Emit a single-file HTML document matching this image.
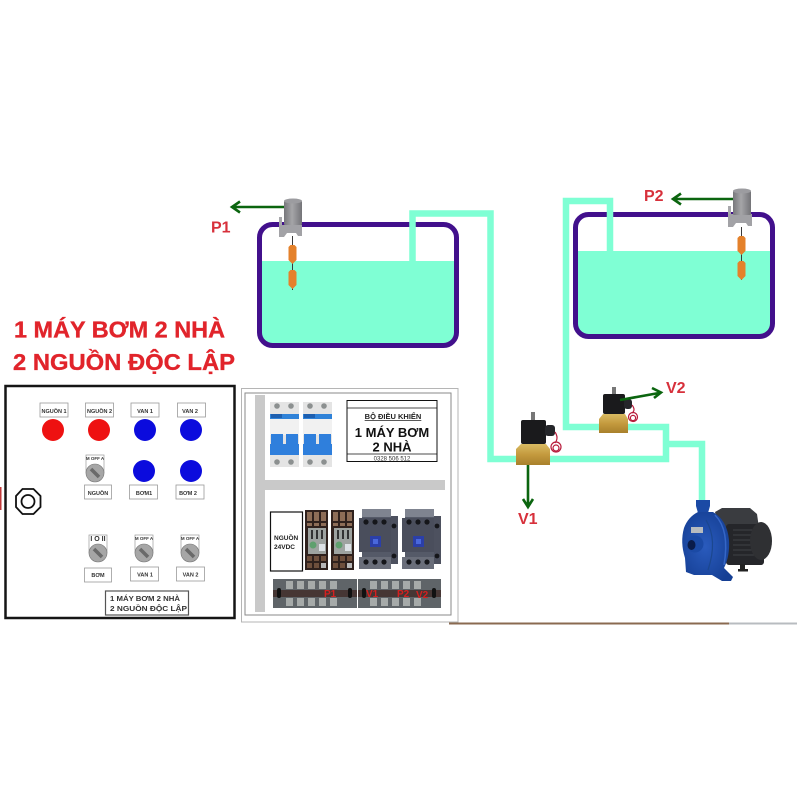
<!DOCTYPE html>
<html><head><meta charset="utf-8"><style>
html,body{margin:0;padding:0;background:#fff}
svg{display:block}
text{font-family:"Liberation Sans","Noto Sans CJK SC",sans-serif;font-weight:700}
</style></head><body>
<svg width="800" height="800" viewBox="0 0 800 800" xmlns="http://www.w3.org/2000/svg">
<defs>
<linearGradient id="cyl" x1="0" x2="1" y1="0" y2="0"><stop offset="0" stop-color="#77777b"/><stop offset=".45" stop-color="#a5a5a8"/><stop offset="1" stop-color="#747478"/></linearGradient>
<linearGradient id="brass" x1="0" x2="0" y1="0" y2="1"><stop offset="0" stop-color="#d9bb62"/><stop offset=".5" stop-color="#c49a3e"/><stop offset="1" stop-color="#a8802c"/></linearGradient>
<radialGradient id="pump" cx=".45" cy=".5" r=".6"><stop offset="0" stop-color="#2a5bbd"/><stop offset="1" stop-color="#153f94"/></radialGradient>
<g id="brk">
<rect x="0" y="0" width="29" height="65" fill="#e4e4e4"/>
<rect x="0" y="12" width="29" height="5" fill="#2f82d8"/>
<rect x="1" y="12" width="11" height="4" fill="#1d5fb0"/>
<rect x="0" y="17" width="29" height="16" fill="#f1f1f1"/>
<rect x="1" y="32" width="12" height="12" fill="#2f7fdc"/><rect x="16" y="32" width="12" height="12" fill="#2f7fdc"/>
<rect x="0" y="42" width="29" height="11" fill="#2f7fdc"/>
<circle cx="7" cy="4" r="2.800" fill="#8c9090"/><circle cx="21" cy="4" r="2.800" fill="#8c9090"/>
<circle cx="7" cy="60" r="2.800" fill="#8c9090"/><circle cx="21" cy="60" r="2.800" fill="#8c9090"/>
</g>
<g id="relay">
<rect x="0" y="0" width="23" height="60" fill="#2f211d"/>
<rect x="2" y="2" width="5" height="9" fill="#8d6d57"/><rect x="9" y="2" width="5" height="9" fill="#8d6d57"/><rect x="16" y="2" width="5" height="9" fill="#8d6d57"/>
<rect x="2" y="13" width="5" height="3" fill="#8d6d57"/><rect x="9" y="13" width="5" height="3" fill="#8d6d57"/><rect x="16" y="13" width="5" height="3" fill="#8d6d57"/>
<rect x="3" y="18" width="18" height="26" fill="#9ea3a0"/>
<rect x="6" y="20" width="2" height="9" fill="#333"/><rect x="11" y="20" width="2" height="9" fill="#333"/><rect x="16" y="20" width="2" height="9" fill="#333"/>
<circle cx="8" cy="35" r="3.500" fill="#5fa06e"/><rect x="14" y="34" width="6" height="7" fill="#dde2e6"/>
<rect x="2" y="46" width="5" height="5" fill="#6e4f3c"/><rect x="9" y="46" width="5" height="5" fill="#6e4f3c"/><rect x="16" y="46" width="5" height="5" fill="#6e4f3c"/>
<rect x="2" y="53" width="5" height="5" fill="#6e4f3c"/><rect x="9" y="53" width="5" height="5" fill="#6e4f3c"/><rect x="16" y="53" width="5" height="5" fill="#b8b8b8"/>
</g>
<g id="cont">
<rect x="3" y="0" width="29" height="60" fill="#555a68"/>
<rect x="0" y="9" width="32" height="34" fill="#4a4e5c"/>
<rect x="32" y="7" width="7" height="48" fill="#4d515f"/>
<rect x="3" y="0" width="29" height="8" fill="#7f8490"/>
<circle cx="7" cy="13" r="2.600" fill="#15161a"/><circle cx="16" cy="13" r="2.600" fill="#15161a"/><circle cx="25" cy="13" r="2.600" fill="#15161a"/>
<circle cx="35" cy="17" r="2.400" fill="#15161a"/><circle cx="35" cy="47" r="2.400" fill="#15161a"/>
<rect x="11" y="27" width="11" height="11" fill="#2b3fa8"/>
<rect x="14" y="30" width="5" height="5" fill="#4a68dc"/>
<rect x="0" y="48" width="32" height="12" fill="#6a6e7a"/>
<circle cx="7" cy="53" r="2.600" fill="#15161a"/><circle cx="16" cy="53" r="2.600" fill="#15161a"/><circle cx="25" cy="53" r="2.600" fill="#15161a"/>
</g>
<g id="selector">
<rect x="-9" y="-18" width="18" height="18" fill="#fff" stroke="#9a9a9a" stroke-width=".7"/>
<circle cx="0" cy="0" r="9" fill="#a6a6a6" stroke="#777" stroke-width=".6"/>
<path d="M-4-4L4 4" stroke="#6a6a6a" stroke-width="3.600"/>
</g>
<g id="float">
<path d="M-4 2L-2 0H2L4 2V15L0 19L-4 15Z" fill="#e4812b"/>
</g>
</defs>

<!-- tanks -->
<path d="M260 261H457V333a12 12 0 0 1-12 12H272a12 12 0 0 1-12-12Z" fill="#7fffd4"/>
<rect x="259.500" y="224.500" width="197" height="121" rx="13" fill="none" stroke="#42108c" stroke-width="5"/>
<path d="M575 251H773V325a12 12 0 0 1-12 12H587a12 12 0 0 1-12-12Z" fill="#7fffd4"/>
<rect x="575.500" y="214.500" width="197" height="122" rx="13" fill="none" stroke="#42108c" stroke-width="5"/>

<!-- pipes -->
<g fill="none" stroke="#7fffd4" stroke-width="6.500">
<path d="M412.500 261V213.500H490.500V459H520"/>
<path d="M545 459H666V427H600"/>
<path d="M600 427H566V201H610V251"/>
<path d="M666 444H702V502"/>
</g>

<!-- sensors -->
<g>
<rect x="279" y="217" width="3" height="10" fill="#a8a8ac"/>
<path d="M279 225H302V236H298L296 233H287L284 237H279Z" fill="#a2a2a6"/>
<rect x="284" y="201" width="18" height="24" rx="1" fill="url(#cyl)"/>
<ellipse cx="293" cy="201" rx="9" ry="2.500" fill="#9c9ca0"/>
<path d="M292.500 236V290" stroke="#3a3a3a" stroke-width="1"/>
<use href="#float" x="292.500" y="245"/><use href="#float" x="292.500" y="270"/>
</g>
<g>
<rect x="728" y="206" width="3" height="10" fill="#a8a8ac"/>
<path d="M728 214H752V226H748L746 223H736L733 227H728Z" fill="#a2a2a6"/>
<rect x="733" y="191" width="18" height="24" rx="1" fill="url(#cyl)"/>
<ellipse cx="742" cy="191" rx="9" ry="2.500" fill="#9c9ca0"/>
<path d="M741.500 227V280" stroke="#3a3a3a" stroke-width="1"/>
<use href="#float" x="741.500" y="236"/><use href="#float" x="741.500" y="261"/>
</g>

<!-- green arrows -->
<g fill="none" stroke="#0b650f" stroke-width="2.600">
<path d="M284 207H233M240 201.500L232 207L240 212.500"/>
<path d="M733 199H674M681 193.500L673 199L681 204.500"/>
<path d="M528 465V506M523 499L528 507L533 499"/>
</g>

<!-- valve 1 -->
<g>
<rect x="531" y="412" width="4" height="9" fill="#777"/>
<rect x="521" y="420" width="25" height="24" rx="2" fill="#1a1a1c"/>
<rect x="545" y="425" width="10" height="11" rx="3" fill="#25262a"/>
<path d="M516 449l5-5h25l4 5v16h-34z" fill="url(#brass)"/>
<g fill="none" stroke="#b81c3c" stroke-width="1.200"><circle cx="556" cy="447" r="5"/><circle cx="556" cy="448" r="3"/><path d="M555 432Q559 438 555 443"/></g>
</g>
<!-- valve 2 -->
<g>
<rect x="612" y="387" width="4" height="8" fill="#777"/>
<rect x="603" y="394" width="22" height="20" rx="2" fill="#1a1a1c"/>
<rect x="624" y="399" width="8" height="10" rx="3" fill="#25262a"/>
<path d="M599 419l4-5h22l3 5v14h-29z" fill="url(#brass)"/>
<g fill="none" stroke="#b81c3c" stroke-width="1.200"><circle cx="633" cy="417" r="4.500"/><circle cx="633" cy="418" r="2.600"/><path d="M632 405Q636 410 632 413"/></g>
</g>
<path d="M620 400L659 393M652 388L661 392.500L654 398" fill="none" stroke="#0b650f" stroke-width="2.600"/>

<!-- pump -->
<g>
<path d="M715 512L722 508H750L757 514L759 528L720 530Z" fill="#3a3c40"/>
<rect x="726" y="524" width="38" height="41" rx="3" fill="#25262a"/>
<g stroke="#4a4c50" stroke-width=".8"><path d="M733 530H758M733 535H758M733 540H758M733 545H758M733 550H758M733 555H758"/></g>
<ellipse cx="761" cy="541" rx="11" ry="19" fill="#2f3033"/>
<rect x="740" y="564" width="5" height="7" fill="#222"/>
<rect x="738" y="569" width="10" height="2.500" fill="#222"/>
<path d="M696 500H710V506L708 513H698L696 506Z" fill="#1b4aa5"/>
<path d="M698 512H713Q727 520 729 540Q730 556 724 568L733 577L731 581H722L712 575H694L686 572L685 558Q680 542 684 528Q688 517 698 512Z" fill="url(#pump)"/>
<path d="M715 515Q730 530 724 565" fill="none" stroke="#3566c6" stroke-width="1.500"/>
<path d="M706 520Q718 540 708 570" fill="none" stroke="#1b478f" stroke-width="1.200"/>
<rect x="691" y="527" width="12" height="6" fill="#b7bbbf"/>
<circle cx="695" cy="544" r="8.500" fill="#1b4aa5"/>
<ellipse cx="691.500" cy="545" rx="4" ry="5" fill="#0a1c4a"/>
</g>

<!-- title -->
<text x="14" y="337.500" font-size="22.800" fill="#e1242b" stroke="#e1242b" stroke-width=".35" textLength="211" lengthAdjust="spacingAndGlyphs">1 MÁY BƠM 2 NHÀ</text>
<text x="13" y="370" font-size="22.800" fill="#e1242b" stroke="#e1242b" stroke-width=".35" textLength="222" lengthAdjust="spacingAndGlyphs">2 NGUỒN ĐỘC LẬP</text>

<!-- labels -->
<g fill="#d7303b" font-size="16">
<text x="211" y="232.500">P1</text>
<text x="644" y="201">P2</text>
<text x="518" y="524">V1</text>
<text x="666" y="393">V2</text>
</g>

<!-- panel 1 -->
<rect x="0" y="487" width="1.500" height="23" fill="#c03a3a"/>
<rect x="5.500" y="386" width="229" height="232" fill="#fff" stroke="#151515" stroke-width="2.500"/>
<g fill="#fff" stroke="#9a9a9a" stroke-width=".8">
<rect x="40" y="403" width="28" height="14"/><rect x="85.500" y="403" width="28" height="14"/><rect x="131" y="403" width="28" height="14"/><rect x="177.500" y="403" width="28" height="14"/>
<rect x="84.500" y="485" width="27" height="14"/><rect x="129.500" y="485" width="28" height="14"/><rect x="176" y="485" width="28" height="14"/>
<rect x="84.500" y="568" width="27" height="14"/><rect x="130.500" y="567" width="28" height="14"/><rect x="176.500" y="567" width="28" height="14"/>
</g>
<g font-size="5.500" fill="#333" text-anchor="middle">
<text x="54" y="413">NGUỒN 1</text><text x="99.500" y="413">NGUỒN 2</text><text x="145" y="413">VAN 1</text><text x="190" y="413">VAN 2</text>
<text x="98" y="495">NGUỒN</text><text x="144" y="495">BƠM1</text><text x="188" y="495">BƠM 2</text>
<text x="98" y="577">BƠM</text><text x="145" y="576.500">VAN 1</text><text x="190.500" y="576.500">VAN 2</text>
</g>
<g fill="#ee1111"><circle cx="53" cy="430" r="11"/><circle cx="99" cy="430" r="11"/></g>
<g fill="#0b0bdd"><circle cx="145" cy="430" r="11"/><circle cx="191" cy="430" r="11"/><circle cx="144" cy="471" r="11"/><circle cx="191" cy="471" r="11"/></g>
<use href="#selector" x="95" y="473"/><use href="#selector" x="98" y="553"/><use href="#selector" x="144" y="553"/><use href="#selector" x="190" y="553"/>
<g font-size="4.500" fill="#333" text-anchor="middle">
<text x="95" y="460">M OFF A</text><text x="144" y="540">M OFF A</text><text x="190" y="540">M OFF A</text>
</g>
<text x="98" y="541" font-size="7" fill="#333" text-anchor="middle">I O II</text>
<polygon points="22.500,489 33.500,489 40.500,496 40.500,507 33.500,514 22.500,514 16,507 16,496" fill="#fff" stroke="#111" stroke-width="1.800"/>
<circle cx="28" cy="501.500" r="6.500" fill="none" stroke="#111" stroke-width="1.800"/>
<rect x="105.500" y="591" width="83" height="24" fill="#fff" stroke="#555" stroke-width="1.200"/>
<text x="110" y="601" font-size="7.500" fill="#333" textLength="70" lengthAdjust="spacingAndGlyphs">1 MÁY BƠM 2 NHÀ</text>
<text x="110" y="611" font-size="7.500" fill="#333" textLength="77" lengthAdjust="spacingAndGlyphs">2 NGUỒN ĐỘC LẬP</text>

<!-- panel 2 -->
<rect x="241.500" y="388.500" width="216.500" height="233.500" fill="#fff" stroke="#b5b5b5" stroke-width="1"/>
<rect x="245" y="393" width="206" height="222" fill="#fff" stroke="#8a8a8a" stroke-width="1"/>
<rect x="255" y="395" width="10" height="217" fill="#c9c9c9"/>
<rect x="265" y="480" width="180" height="10" fill="#c9c9c9"/>
<use href="#brk" x="270" y="402"/><use href="#brk" x="303" y="402"/>
<rect x="347" y="400.500" width="90" height="61" fill="#fff" stroke="#111" stroke-width="1"/>
<path d="M347 408H437M347 454H437" stroke="#111" stroke-width=".8"/>
<text x="393" y="419" font-size="7.500" fill="#222" text-anchor="middle" text-decoration="underline">BỘ ĐIỀU KHIỂN</text>
<text x="392" y="437" font-size="13" fill="#111" text-anchor="middle">1 MÁY BƠM</text>
<text x="392" y="451.500" font-size="13" fill="#111" text-anchor="middle">2 NHÀ</text>
<text x="392" y="460.500" font-size="6" fill="#333" text-anchor="middle" style="font-weight:400">0328 506 512</text>
<rect x="270.500" y="512" width="32" height="59" fill="#fff" stroke="#111" stroke-width="1.200"/>
<text x="274" y="540" font-size="6.500" fill="#222">NGUỒN</text>
<text x="274" y="549" font-size="6.500" fill="#222">24VDC</text>
<use href="#relay" x="305" y="510"/><use href="#relay" x="331" y="510"/>
<use href="#cont" x="359" y="509"/><use href="#cont" x="402" y="509"/>
<!-- terminal strips -->
<g>
<rect x="273" y="579" width="84" height="29" fill="#5f6468"/>
<rect x="358" y="579" width="83" height="29" fill="#5f6468"/>
<rect x="273" y="590" width="84" height="7" fill="#463634"/>
<rect x="358" y="590" width="83" height="7" fill="#463634"/>
<g fill="#111"><rect x="277" y="588" width="4" height="10" rx="2"/><rect x="348" y="588" width="4" height="10" rx="2"/><rect x="362" y="588" width="4" height="10" rx="2"/><rect x="432" y="588" width="4" height="10" rx="2"/></g>
<g fill="#a6aaa9"><rect x="286" y="581" width="7" height="8"/><rect x="297" y="581" width="7" height="8"/><rect x="308" y="581" width="7" height="8"/><rect x="319" y="581" width="7" height="8"/><rect x="330" y="581" width="7" height="8"/><rect x="370" y="581" width="7" height="8"/><rect x="381" y="581" width="7" height="8"/><rect x="392" y="581" width="7" height="8"/><rect x="403" y="581" width="7" height="8"/><rect x="414" y="581" width="7" height="8"/><rect x="286" y="598" width="7" height="8"/><rect x="297" y="598" width="7" height="8"/><rect x="308" y="598" width="7" height="8"/><rect x="319" y="598" width="7" height="8"/><rect x="330" y="598" width="7" height="8"/><rect x="370" y="598" width="7" height="8"/><rect x="381" y="598" width="7" height="8"/><rect x="392" y="598" width="7" height="8"/><rect x="403" y="598" width="7" height="8"/><rect x="414" y="598" width="7" height="8"/></g>
<g font-size="10" fill="#d42020">
<text x="324" y="597">P1</text><text x="366" y="597">V1</text><text x="397" y="597">P2</text><text x="416" y="598">V2</text>
</g>
</g>

<!-- bottom strip -->
<rect x="449" y="622.500" width="280" height="2" fill="#8a6a50"/>
<rect x="729" y="622.500" width="68" height="2" fill="#b8bcc0"/>
</svg>
</body></html>
